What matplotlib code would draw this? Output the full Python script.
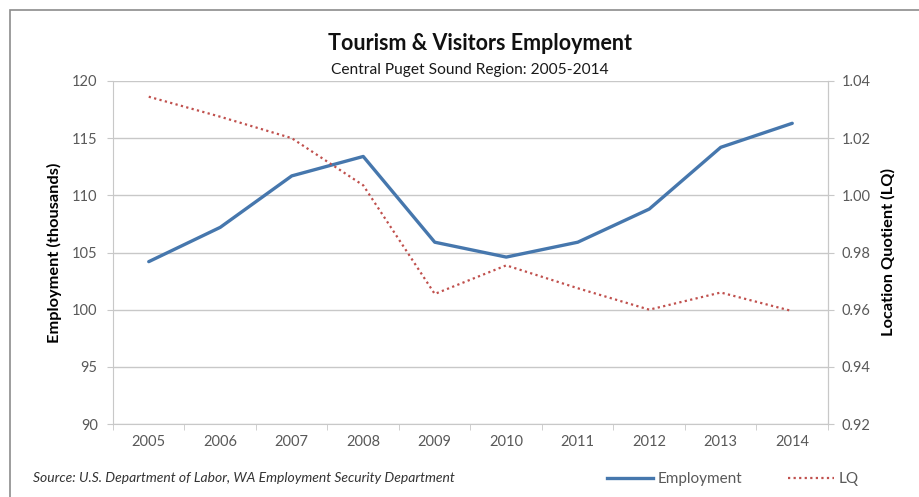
import matplotlib
matplotlib.use("Agg")
import matplotlib.pyplot as plt
from matplotlib.lines import Line2D
from matplotlib.patches import Rectangle

years = ["2005", "2006", "2007", "2008", "2009", "2010", "2011", "2012", "2013", "2014"]
employment = [104.2, 107.2, 111.7, 113.4, 105.9, 104.6, 105.9, 108.8, 114.2, 116.3]
lq = [1.0345, 1.0275, 1.020, 1.0035, 0.9655, 0.9755, 0.9675, 0.9600, 0.9660, 0.9595]
left_ticks = [90, 95, 100, 105, 110, 115, 120]
right_ticks = [0.92, 0.94, 0.96, 0.98, 1.00, 1.02, 1.04]

plt.rcParams['font.family'] = ['Lato', 'DejaVu Sans']
txt = '#595959'
grid = '#c8c8c8'
blue = '#4677ad'
red = '#c0504d'

fig = plt.figure(figsize=(9.2, 4.97), dpi=100)
fig.patches.append(Rectangle((10/920, -0.05), 1.0, 1 - 10/497 + 0.05, transform=fig.transFigure,
                             fill=False, edgecolor='#8c8c8c', linewidth=1.2))

ax = fig.add_axes([113/920, 1 - 424/497, (828 - 113)/920, (424 - 81)/497])
x = list(range(len(years)))
ax.plot(x, employment, color=blue, linewidth=2.4, solid_capstyle='round', zorder=3)
ax.set_xlim(-0.5, len(years) - 0.5)
ax.set_ylim(90, 120)
ax.set_yticks(left_ticks)
ax.set_yticklabels([str(t) for t in left_ticks])
ax.set_xticks(x)
ax.set_xticklabels(years)
ax.set_xticks([i + 0.5 for i in range(-1, len(years))], minor=True)
ax.tick_params(axis='x', which='major', length=0, pad=8, labelsize=10.5, colors=txt)
ax.tick_params(axis='x', which='minor', length=4, color=grid, direction='out')
ax.tick_params(axis='y', length=4, color=grid, labelsize=10.5, colors=txt, pad=7)
ax.grid(axis='y', color=grid, linewidth=1)
ax.set_axisbelow(True)
ax.spines['top'].set_visible(False)
for s in ['left', 'bottom', 'right']:
    ax.spines[s].set_color(grid)
ax.set_ylabel('Employment (thousands)', fontsize=11.8, fontweight='bold', color='black', labelpad=7)

ax2 = ax.twinx()
ax2.plot(x, lq, color=red, linewidth=1.6, linestyle=(0, (1, 1.5)), zorder=3)
ax2.set_ylim(0.92, 1.04)
ax2.set_yticks(right_ticks)
ax2.set_yticklabels([f"{t:.2f}" for t in right_ticks])
ax2.tick_params(axis='y', length=4, color=grid, labelsize=10.5, colors=txt, pad=6)
for s in ['top', 'left', 'bottom']:
    ax2.spines[s].set_visible(False)
ax2.spines['right'].set_color(grid)
ax2.set_ylabel('Location Quotient (LQ)', fontsize=11.8, fontweight='bold', color='black', labelpad=7)

fig.text(480/920, 1 - 43/497, 'Tourism & Visitors Employment', ha='center', va='center',
         fontsize=15.5, fontweight='bold', color='#111111')
fig.text(470/920, 1 - 70/497, 'Central Puget Sound Region: 2005-2014', ha='center', va='center',
         fontsize=11.2, color='#1a1a1a')
fig.text(33/920, 1 - 478/497, 'Source: U.S. Department of Labor, WA Employment Security Department',
         ha='left', va='center', fontsize=10, style='italic', color='#333333')

handles = [Line2D([], [], color=blue, linewidth=2.4),
           Line2D([], [], color=red, linewidth=1.6, linestyle=(0, (1, 1.5)))]
leg = fig.legend(handles, ['Employment', 'LQ'], loc='center', bbox_to_anchor=(733/920, 1 - 479/497),
                 ncol=2, frameon=False, fontsize=11, handlelength=3.0, handletextpad=0.3,
                 columnspacing=3.0)
for t in leg.get_texts():
    t.set_color(txt)

fig.savefig('out.png', dpi=100)
